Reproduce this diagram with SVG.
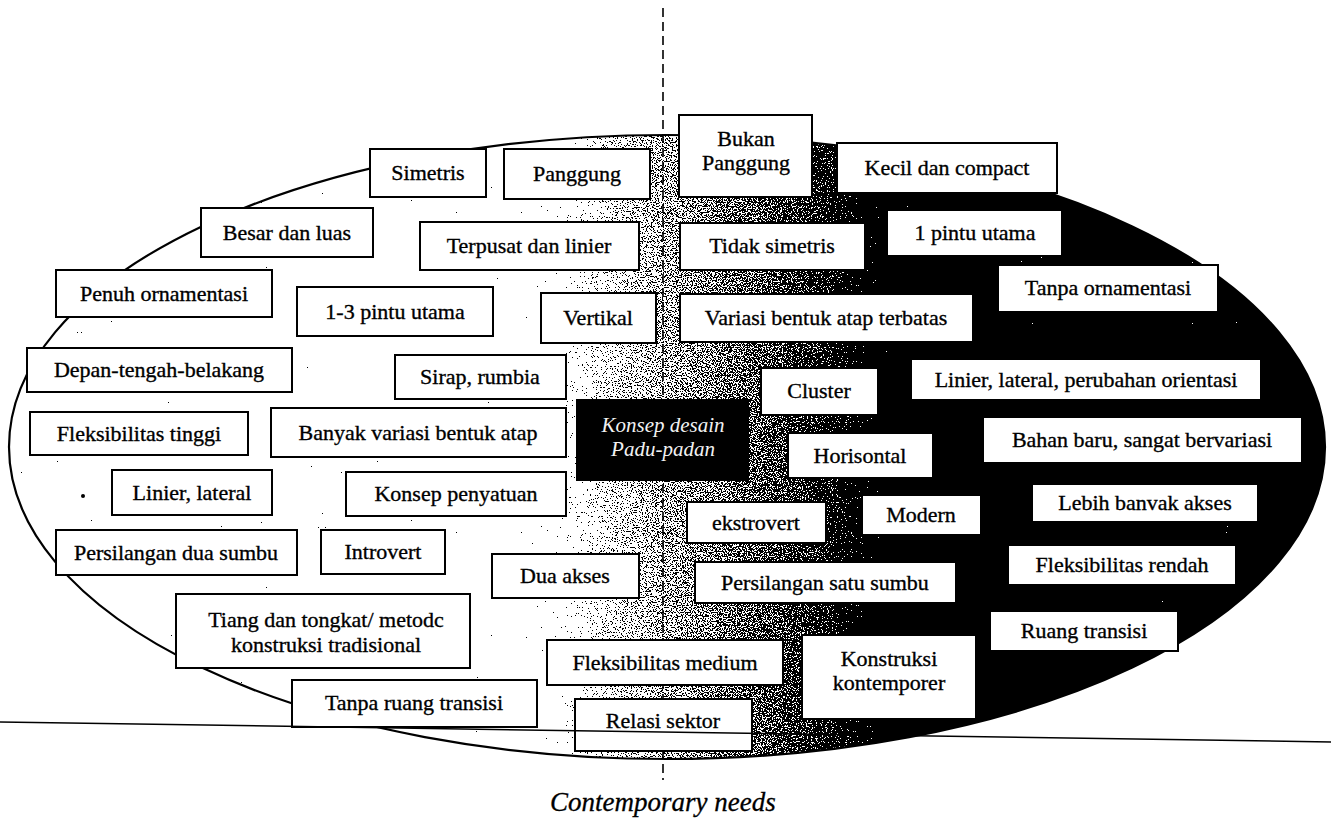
<svg xmlns="http://www.w3.org/2000/svg" width="1331" height="822" viewBox="0 0 1331 822">
  <style>
    .box { fill: #ffffff; stroke: #000000; stroke-width: 2; }
    .lbl { font-family: "Liberation Serif", "Times New Roman", serif; font-size: 22px; fill: #000000; stroke: #000000; stroke-width: 0.35px; text-anchor: middle; }
    .core { font-family: "Liberation Serif", "Times New Roman", serif; font-size: 21px; font-style: italic; fill: #f2f2f2; text-anchor: middle; }
    .caption { font-family: "Liberation Serif", "Times New Roman", serif; font-size: 27px; font-style: italic; fill: #000000; stroke: #000000; stroke-width: 0.3px; }
  </style>
  <defs>
    <!-- white (tradition) to black (contemporary) across the oval -->
    <linearGradient id="shade" gradientUnits="userSpaceOnUse" x1="0" y1="0" x2="1331" y2="0">
      <stop offset="0.391" stop-color="#ffffff"/>
      <stop offset="0.421" stop-color="#e0e0e0"/>
      <stop offset="0.451" stop-color="#b4b4b4"/>
      <stop offset="0.496" stop-color="#939393"/>
      <stop offset="0.541" stop-color="#7e7e7e"/>
      <stop offset="0.586" stop-color="#676767"/>
      <stop offset="0.624" stop-color="#4a4a4a"/>
      <stop offset="0.654" stop-color="#222222"/>
      <stop offset="0.672" stop-color="#000000"/>
    </linearGradient>
    <!-- stippled halftone for the shaded fill -->
    <filter id="stipple" x="0" y="0" width="1" height="1" color-interpolation-filters="sRGB">
      <feTurbulence type="fractalNoise" baseFrequency="0.8" numOctaves="2" seed="7" result="n"/>
      <feColorMatrix in="n" type="matrix" values="1 0 0 0 0  1 0 0 0 0  1 0 0 0 0  0 0 0 0 1" result="g"/>
      <feComposite in="SourceGraphic" in2="g" operator="arithmetic" k1="0" k2="1" k3="1.4" k4="-0.7" result="m"/>
      <feComponentTransfer in="m" result="t">
        <feFuncR type="discrete" tableValues="0 1"/>
        <feFuncG type="discrete" tableValues="0 1"/>
        <feFuncB type="discrete" tableValues="0 1"/>
        <feFuncA type="linear" slope="0" intercept="1"/>
      </feComponentTransfer>
      <feComposite in="t" in2="SourceAlpha" operator="in"/>
    </filter>
  </defs>

  <rect x="0" y="0" width="1331" height="822" fill="#ffffff"/>

  <!-- oval field -->
  <g id="field">
    <ellipse cx="667" cy="447" rx="658" ry="312" fill="url(#shade)" filter="url(#stipple)"/>
    <ellipse cx="667" cy="447" rx="658" ry="312" fill="none" stroke="#000000" stroke-width="2.2"/>
  </g>

  <!-- divider lines -->
  <g id="connectors">
    <line x1="663" y1="8" x2="663" y2="780" stroke="#000000" stroke-width="1.6" stroke-dasharray="9 5"/>
  </g>

  <!-- traditional attributes -->
  <g id="simetris"><rect class="box" x="370" y="149" width="116" height="48"/><text class="lbl" x="428" y="180">Simetris</text></g>
  <g id="panggung"><rect class="box" x="504" y="149" width="146" height="50"/><text class="lbl" x="577" y="181">Panggung</text></g>
  <g id="besar-dan-luas"><rect class="box" x="201" y="208" width="172" height="49"/><text class="lbl" x="287" y="240">Besar dan luas</text></g>
  <g id="terpusat-dan-linier"><rect class="box" x="420" y="222" width="219" height="48"/><text class="lbl" x="529" y="253">Terpusat dan linier</text></g>
  <g id="penuh-ornamentasi"><rect class="box" x="56" y="270" width="216" height="47"/><text class="lbl" x="164" y="301">Penuh ornamentasi</text></g>
  <g id="pintu-1-3"><rect class="box" x="297" y="287" width="196" height="49"/><text class="lbl" x="395" y="319">1-3 pintu utama</text></g>
  <g id="vertikal"><rect class="box" x="541" y="293" width="115" height="50"/><text class="lbl" x="598" y="325">Vertikal</text></g>
  <g id="depan-tengah-belakang"><rect class="box" x="27" y="348" width="265" height="44"/><text class="lbl" x="159" y="377">Depan-tengah-belakang</text></g>
  <g id="sirap-rumbia"><rect class="box" x="395" y="355" width="171" height="44"/><text class="lbl" x="480" y="384">Sirap, rumbia</text></g>
  <g id="fleksibilitas-tinggi"><rect class="box" x="30" y="412" width="218" height="43"/><text class="lbl" x="139" y="441">Fleksibilitas tinggi</text></g>
  <g id="banyak-variasi"><rect class="box" x="271" y="408" width="295" height="49"/><text class="lbl" x="418" y="440">Banyak variasi bentuk atap</text></g>
  <g id="bullet"><circle cx="83" cy="496" r="2" fill="#000000"/></g>
  <g id="linier-lateral"><rect class="box" x="112" y="470" width="160" height="45"/><text class="lbl" x="192" y="500">Linier, lateral</text></g>
  <g id="konsep-penyatuan"><rect class="box" x="346" y="472" width="220" height="44"/><text class="lbl" x="456" y="501">Konsep penyatuan</text></g>
  <g id="persilangan-dua-sumbu"><rect class="box" x="56" y="530" width="241" height="45"/><text class="lbl" x="176" y="560">Persilangan dua sumbu</text></g>
  <g id="introvert"><rect class="box" x="321" y="530" width="124" height="44"/><text class="lbl" x="383" y="559">Introvert</text></g>
  <g id="dua-akses"><rect class="box" x="492" y="554" width="147" height="44"/><text class="lbl" x="565" y="583">Dua akses</text></g>
  <g id="tiang-dan-tongkat"><rect class="box" x="176" y="594" width="294" height="74"/><text class="lbl" x="326" y="627">Tiang dan tongkat/ metodc</text><text class="lbl" x="326" y="652">konstruksi tradisional</text></g>
  <g id="tanpa-ruang-transisi"><rect class="box" x="292" y="680" width="245" height="47"/><text class="lbl" x="414" y="710">Tanpa ruang transisi</text></g>
  <g id="fleksibilitas-medium"><rect class="box" x="547" y="640" width="236" height="45"/><text class="lbl" x="665" y="670">Fleksibilitas medium</text></g>
  <g id="relasi-sektor"><rect class="box" x="575" y="699" width="177" height="52"/><text class="lbl" x="663" y="728">Relasi sektor</text></g>

  <!-- core concept -->
  <g id="konsep-desain"><rect x="577" y="400" width="171" height="80" fill="#000000" stroke="#000000" stroke-width="2"/><text class="core" x="663" y="432">Konsep desain</text><text class="core" x="663" y="456">Padu-padan</text></g>

  <!-- contemporary attributes -->
  <g id="bukan-panggung"><rect class="box" x="679" y="115" width="133" height="82"/><text class="lbl" x="746" y="146">Bukan</text><text class="lbl" x="746" y="170">Panggung</text></g>
  <g id="kecil-dan-compact"><rect class="box" x="837" y="143" width="220" height="50"/><text class="lbl" x="947" y="175">Kecil dan compact</text></g>
  <g id="tidak-simetris"><rect class="box" x="680" y="223" width="185" height="47"/><text class="lbl" x="772" y="253">Tidak simetris</text></g>
  <g id="pintu-1"><rect class="box" x="887" y="210" width="175" height="46"/><text class="lbl" x="975" y="240">1 pintu utama</text></g>
  <g id="tanpa-ornamentasi"><rect class="box" x="998" y="265" width="220" height="47"/><text class="lbl" x="1108" y="295">Tanpa ornamentasi</text></g>
  <g id="variasi-terbatas"><rect class="box" x="680" y="294" width="293" height="48"/><text class="lbl" x="826" y="325">Variasi bentuk atap terbatas</text></g>
  <g id="cluster"><rect class="box" x="761" y="368" width="117" height="47"/><text class="lbl" x="819" y="398">Cluster</text></g>
  <g id="linier-lateral-orientasi"><rect class="box" x="911" y="359" width="350" height="41"/><text class="lbl" x="1086" y="387">Linier, lateral, perubahan orientasi</text></g>
  <g id="horisontal"><rect class="box" x="788" y="433" width="145" height="45"/><text class="lbl" x="860" y="463">Horisontal</text></g>
  <g id="bahan-baru"><rect class="box" x="983" y="417" width="319" height="46"/><text class="lbl" x="1142" y="447">Bahan baru, sangat bervariasi</text></g>
  <g id="ekstrovert"><rect class="box" x="687" y="502" width="139" height="41"/><text class="lbl" x="756" y="530">ekstrovert</text></g>
  <g id="modern"><rect class="box" x="862" y="495" width="119" height="40"/><text class="lbl" x="921" y="522">Modern</text></g>
  <g id="lebih-banyak-akses"><rect class="box" x="1032" y="484" width="226" height="38"/><text class="lbl" x="1145" y="510">Lebih banvak akses</text></g>
  <g id="fleksibilitas-rendah"><rect class="box" x="1008" y="545" width="228" height="40"/><text class="lbl" x="1122" y="572">Fleksibilitas rendah</text></g>
  <g id="persilangan-satu-sumbu"><rect class="box" x="695" y="562" width="261" height="41"/><text class="lbl" x="825" y="590">Persilangan satu sumbu</text></g>
  <g id="ruang-transisi"><rect class="box" x="990" y="611" width="188" height="40"/><text class="lbl" x="1084" y="638">Ruang transisi</text></g>
  <g id="konstruksi-kontemporer"><rect class="box" x="802" y="635" width="174" height="84"/><text class="lbl" x="889" y="666">Konstruksi</text><text class="lbl" x="889" y="690">kontemporer</text></g>

  <!-- base line across the page -->
  <g id="baseline">
    <line x1="0" y1="722" x2="1331" y2="742" stroke="#000000" stroke-width="1.5"/>
  </g>

  <text id="caption" class="caption" x="550" y="811">Contemporary needs</text>
</svg>
